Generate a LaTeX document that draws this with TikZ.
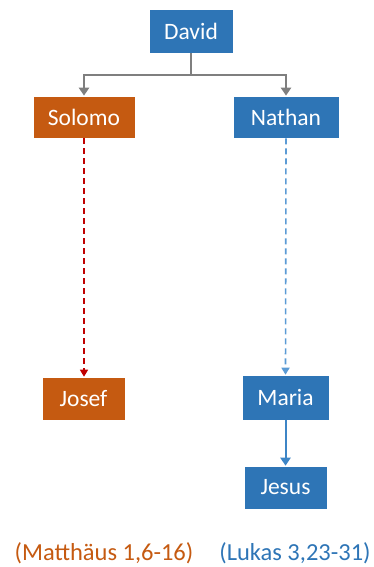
\documentclass[tikz,border=0pt]{standalone}
\usepackage{fontspec}
\setmainfont{Carlito}
\usetikzlibrary{arrows.meta}
\definecolor{cblue}{HTML}{2E75B6}
\definecolor{corange}{HTML}{C55A11}
\definecolor{cred}{HTML}{C00000}
\definecolor{clblue}{HTML}{5B9BD5}
\definecolor{cmblue}{HTML}{3D85C6}
\definecolor{cgray}{HTML}{7F7F7F}
\tikzset{
  box/.style={draw=white, line width=0.6pt, inner sep=0pt, text=white, font=\fontsize{23.5}{27}\selectfont},
  bluebox/.style={box, fill=cblue},
  orangebox/.style={box, fill=corange},
  tip/.style={-{Triangle[width=10pt,length=8pt]}},
  smalltip/.style={-{Triangle[width=8pt,length=7pt]}},
}
\begin{document}
\begin{tikzpicture}[x=1pt,y=-1pt]
\useasboundingbox (0,0) rectangle (374,567);
\node[bluebox, minimum width=84pt, minimum height=44pt] (david) at (191,31) {David};
\node[orangebox, minimum width=102pt, minimum height=42pt] (solomo) at (84,117) {Solomo};
\node[bluebox, minimum width=106pt, minimum height=42pt] (nathan) at (286,117) {Nathan};
\node[orangebox, minimum width=83pt, minimum height=43pt] (josef) at (83.5,398.5) {Josef};
\node[bluebox, minimum width=87pt, minimum height=45pt] (maria) at (285.5,397.5) {Maria};
\node[bluebox, minimum width=83pt, minimum height=43pt] (jesus) at (285.5,487.5) {Jesus};
\coordinate (split) at (191,75);
\draw[cgray, line width=2.2pt, tip] (david.south) -- (split) -| (solomo.north);
\draw[cgray, line width=2.2pt, tip] (split) -| (nathan.north);
\draw[cred, line width=1.6pt, dashed, dash pattern=on 6pt off 4pt, smalltip] (solomo.south) -- (solomo.south |- josef.north);
\draw[clblue, line width=1.6pt, dashed, dash pattern=on 6pt off 4pt, smalltip] (nathan.south) -- (maria.north);
\draw[cmblue, line width=2pt, tip] (maria.south) -- (jesus.north);
\node[text=corange, font=\fontsize{24.5}{28}\selectfont] (mt) at (104,553) {(Matthäus 1,6-16)};
\node[text=cblue, font=\fontsize{24.5}{28}\selectfont] (lk) at (295,553) {(Lukas 3,23-31)};
\end{tikzpicture}
\end{document}
